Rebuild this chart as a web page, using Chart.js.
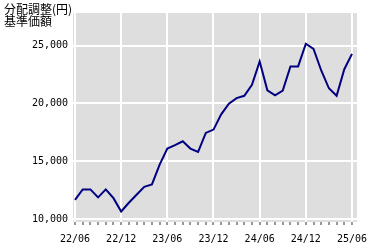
<!DOCTYPE html>
<html>
<head>
<meta charset="utf-8">
<script src="https://cdn.jsdelivr.net/npm/chart.js@4"></script>
<style>
  html, body { margin: 0; padding: 0; background: #fff; }
  .wrap { position: relative; width: 380px; height: 250px; }
  .caption {
    position: absolute; left: 4px; top: 3px;
    font: 12px/12px 'Noto Sans CJK JP', sans-serif; color: #000;
  }
</style>
</head>
<body>
<div class="wrap">
  <canvas id="navChart" width="380" height="250"></canvas>
  <div class="caption">分配調整(円)<br>基準価額</div>
</div>
<script>
// ── Data (monthly, 22/06 → 25/06) ─────────────────────────
const tickLabels = ['22/06', '22/12', '23/06', '23/12', '24/06', '24/12', '25/06'];
const navValues = [
    11650, 12560, 12560, 11870, 12560, 11800, 10650, 11400, 12100, 12780,
    12990, 14700, 16090, 16380, 16720, 16090, 15800, 17440, 17730, 19050,
    19970, 20450, 20650, 21600, 23620, 21120, 20690, 21100, 23190, 23190,
    25150, 24700, 22840, 21300, 20650, 22950, 24280
];
const yTicks = [10000, 15000, 20000, 25000];

// ── Gray plot background ──────────────────────────────────
const plotBg = {
    id: 'plotBg',
    beforeDraw(chart) {
        const a = chart.chartArea;
        const c = chart.ctx;
        c.save();
        c.fillStyle = '#dedede';
        c.fillRect(a.left, a.top, a.right - a.left, a.bottom - a.top);
        c.restore();
    }
};

const tickFont = { family: "'DejaVu Sans Mono', monospace", size: 10 };

new Chart(document.getElementById('navChart'), {
    type: 'line',
    data: {
        datasets: [{
            data: navValues.map((v, i) => ({ x: i, y: v })),
            borderColor: '#000080',
            borderWidth: 2,
            pointRadius: 0,
            tension: 0,
            fill: false,
        }]
    },
    options: {
        responsive: false,
        animation: false,
        layout: { padding: { top: 13, right: 23, left: 0, bottom: 0 } },
        plugins: { legend: { display: false }, tooltip: { enabled: false } },
        scales: {
            x: {
                type: 'linear',
                min: -0.26,
                max: 36.65,
                afterFit: s => { s.height = 28; },
                afterBuildTicks: s => { s.ticks = s.ticks.filter(t => Number.isInteger(t.value)); },
                border: { display: false },
                grid: {
                    color: ctx => (ctx.tick && ctx.tick.value % 6 === 0) ? '#ffffff' : 'rgba(0,0,0,0)',
                    lineWidth: 2,
                    drawTicks: true,
                    tickLength: 3,
                    tickWidth: 1,
                    tickColor: '#333333',
                },
                ticks: {
                    stepSize: 1,
                    includeBounds: false,
                    autoSkip: false,
                    maxRotation: 0,
                    padding: 8,
                    color: '#000',
                    font: tickFont,
                    callback: v => (v % 6 === 0 ? tickLabels[v / 6] : ''),
                },
            },
            y: {
                min: 9740,
                max: 27810,
                afterFit: s => { s.width = 73; },
                afterBuildTicks: s => { s.ticks = yTicks.map(v => ({ value: v })); },
                border: { display: false },
                grid: { color: '#ffffff', lineWidth: 2, drawTicks: false },
                ticks: {
                    includeBounds: false,
                    padding: 5,
                    color: '#000',
                    font: tickFont,
                    callback: v => v.toLocaleString('en-US'),
                },
            },
        },
    },
    plugins: [plotBg],
});
</script>
</body>
</html>
